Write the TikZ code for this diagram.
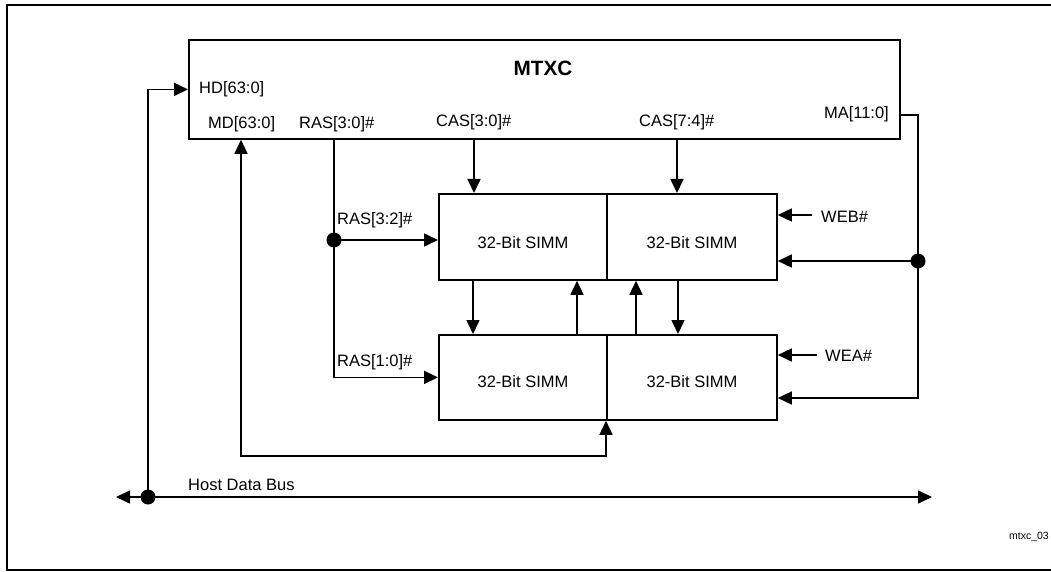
\documentclass[tikz,border=0pt]{standalone}
\usepackage{fontspec}
\setmainfont{Liberation Sans}
\usetikzlibrary{arrows.meta}
\begin{document}
\begin{tikzpicture}[x=1pt,y=-1pt,
  lbl/.style={font=\fontsize{16.5}{18}\selectfont, inner sep=0pt},
  blk/.style={draw, line width=1.8pt, inner sep=0pt, anchor=north west},
  wire/.style={line width=1.6pt},
  tip/.tip={Triangle[length=14pt,width=13pt]},
  arr/.style={wire, -tip},
  darr/.style={wire, tip-tip},
  jdot/.style={circle, fill, inner sep=0pt, minimum size=15pt}]
\useasboundingbox (0,0) rectangle (1051,572);
\draw[line width=1.8pt] (1060,5) -- (7,5) -- (7,570) -- (1060,570);
% blocks
\node[blk, minimum width=711pt, minimum height=99pt] (mtxc) at (188,39) {};
\node[font=\bfseries\fontsize{20.7}{23}\selectfont, inner sep=0pt] (title) at (543,68) {MTXC};
\node[blk, minimum width=168pt, minimum height=86pt] (sUL) at (438,193) {};
\node[blk, minimum width=170pt, minimum height=86pt] (sUR) at (606,193) {};
\node[blk, minimum width=168pt, minimum height=85pt] (sLL) at (438,334) {};
\node[blk, minimum width=170pt, minimum height=85pt] (sLR) at (606,334) {};
\node[lbl] (tUL) at (523,243) {32-Bit SIMM};
\node[lbl] (tUR) at (692,243) {32-Bit SIMM};
\node[lbl] (tLL) at (523,382) {32-Bit SIMM};
\node[lbl] (tLR) at (692,382) {32-Bit SIMM};
% labels
\node[lbl, anchor=west] (lHD) at (199,89) {HD[63:0]};
\node[lbl, anchor=west] (lMD) at (208,124) {MD[63:0]};
\node[lbl, anchor=west] (lRAS) at (299,124) {RAS[3:0]\#};
\node[lbl, anchor=west] (lCAS1) at (436,122) {CAS[3:0]\#};
\node[lbl, anchor=west] (lCAS2) at (639,122) {CAS[7:4]\#};
\node[lbl, anchor=east] (lMA) at (889,114) {MA[11:0]};
\node[lbl, anchor=west] (lR32) at (337,220) {RAS[3:2]\#};
\node[lbl, anchor=west] (lR10) at (337,362) {RAS[1:0]\#};
\node[lbl, anchor=west] (lWEB) at (821,217) {WEB\#};
\node[lbl, anchor=west] (lWEA) at (825,356) {WEA\#};
\node[lbl, anchor=west] (lBus) at (188,485) {Host Data Bus};
\node[font=\fontsize{10.5}{12}\selectfont, inner sep=0pt, anchor=east] (lid) at (1049,537) {mtxc\_03};
% coordinates
\coordinate (busL) at (116,497);
\coordinate (busR) at (932,497);
\coordinate (mdc) at (241,456);
\coordinate (rasx) at (334,0);
\coordinate (c1) at (474,0);
\coordinate (c2) at (677,0);
\coordinate (v1) at (473,0);
\coordinate (v2) at (577,0);
\coordinate (v3) at (636,0);
\coordinate (v4) at (678,0);
\coordinate (maR) at (918,115);
\coordinate (maB) at (918,398);
\coordinate (web) at (812,215);
\coordinate (wea) at (817,355);
% junction dots
\node[jdot] (hdot) at (148,497) {};
\node[jdot] (rdot) at (334,240) {};
\node[jdot] (madot) at (918,261) {};
% host bus
\draw[darr] (busL) -- (busR);
\draw[arr] (hdot.center) |- (mtxc.west);
% MD
\draw[darr] (mdc |- mtxc.south) -- (mdc) -| (sLR.south west);
% RAS
\draw[arr] (rasx |- mtxc.south) |- (sLL.west);
\draw[arr] (rdot.center) -- (rdot -| sUL.west);
% CAS
\draw[arr] (c1 |- mtxc.south) -- (c1 |- sUL.north);
\draw[arr] (c2 |- mtxc.south) -- (c2 |- sUR.north);
% between rows
\draw[arr] (v1 |- sUL.south) -- (v1 |- sLL.north);
\draw[arr] (v2 |- sLL.north) -- (v2 |- sUL.south);
\draw[arr] (v3 |- sLR.north) -- (v3 |- sUR.south);
\draw[arr] (v4 |- sUR.south) -- (v4 |- sLR.north);
% WE
\draw[arr] (web) -- (web -| sUR.east);
\draw[arr] (wea) -- (wea -| sLR.east);
% MA
\draw[arr] (maR -| mtxc.east) -- (maR) -- (maB) -- (maB -| sLR.east);
\draw[arr] (madot.center) -- (madot -| sUR.east);
\end{tikzpicture}
\end{document}
